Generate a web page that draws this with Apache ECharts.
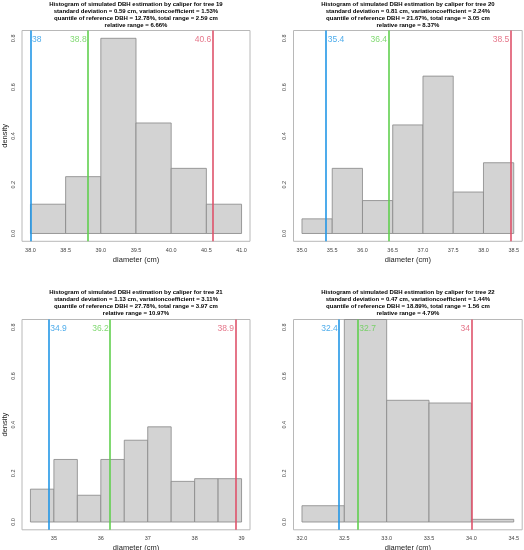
<!DOCTYPE html>
<html>
<head>
<meta charset="utf-8">
<script src="https://cdn.jsdelivr.net/npm/echarts@6/dist/echarts.min.js"></script>
<style>html,body{margin:0;padding:0;background:#fff}#c{width:524px;height:550px}</style>
</head>
<body>
<div id="c"></div>
<script>
// ---- data ----
const binWidth = 0.5;

const title19 = "Histogram of simulated DBH estimation by caliper for tree 19\nstandard deviation = 0.59 cm, variationcoefficient = 1.53%\nquantile of reference DBH = 12.78%, total range = 2.59 cm\nrelative range = 6.66%";
const binStart19 = [38.0, 38.5, 39.0, 39.5, 40.0, 40.5];
const density19 = [0.12, 0.233, 0.80, 0.453, 0.267, 0.12];
const lineVal19 = [38.0, 38.82, 40.59];
const lineLab19 = ["38", "38.8", "40.6"];
const ticks19 = ["38.0", "38.5", "39.0", "39.5", "40.0", "40.5", "41.0"];

const title20 = "Histogram of simulated DBH estimation by caliper for tree 20\nstandard deviation = 0.81 cm, variationcoefficient = 2.24%\nquantile of reference DBH = 21.67%, total range = 3.05 cm\nrelative range = 8.37%";
const binStart20 = [35.0, 35.5, 36.0, 36.5, 37.0, 37.5, 38.0];
const density20 = [0.06, 0.267, 0.135, 0.445, 0.645, 0.17, 0.29];
const lineVal20 = [35.4, 36.43, 38.45];
const lineLab20 = ["35.4", "36.4", "38.5"];
const ticks20 = ["35.0", "35.5", "36.0", "36.5", "37.0", "37.5", "38.0", "38.5"];

const title21 = "Histogram of simulated DBH estimation by caliper for tree 21\nstandard deviation = 1.13 cm, variationcoefficient = 3.11%\nquantile of reference DBH = 27.78%, total range = 3.97 cm\nrelative range = 10.97%";
const binStart21 = [34.5, 35.0, 35.5, 36.0, 36.5, 37.0, 37.5, 38.0, 38.5];
const density21 = [0.135, 0.257, 0.11, 0.257, 0.336, 0.391, 0.167, 0.178, 0.178];
const lineVal21 = [34.89, 36.2, 38.87];
const lineLab21 = ["34.9", "36.2", "38.9"];
const ticks21 = ["35", "36", "37", "38", "39"];

const title22 = "Histogram of simulated DBH estimation by caliper for tree 22\nstandard deviation = 0.47 cm, variationcoefficient = 1.44%\nquantile of reference DBH = 18.89%, total range = 1.56 cm\nrelative range = 4.79%";
const binStart22 = [32.0, 32.5, 33.0, 33.5, 34.0];
const density22 = [0.067, 0.933, 0.50, 0.489, 0.011];
const lineVal22 = [32.44, 32.66, 34.0];
const lineLab22 = ["32.4", "32.7", "34"];
const ticks22 = ["32.0", "32.5", "33.0", "33.5", "34.0", "34.5"];

const yTicks = ["0.0", "0.2", "0.4", "0.6", "0.8"];
const yLimit = [0, 0.8];

// ---- styles / layout ----
const lineColors = ["#2297E6", "#61D04F", "#DF536B"];
const FONT = "Liberation Sans, Arial, Helvetica, sans-serif";
const panels = [
  { title: title19, bs: binStart19, d: density19, lv: lineVal19, ll: lineLab19, tk: ticks19,
    grid: { left: 22, top: 30.5, width: 228, height: 210.8 }, tx: '25.95%', ty: 1.2, sides: ['right','left','left'], yname: true },
  { title: title20, bs: binStart20, d: density20, lv: lineVal20, ll: lineLab20, tk: ticks20,
    grid: { left: 293.5, top: 30.5, width: 228.7, height: 210.8 }, tx: '77.85%', ty: 1.2, sides: ['right','left','left'], yname: false },
  { title: title21, bs: binStart21, d: density21, lv: lineVal21, ll: lineLab21, tk: ticks21,
    grid: { left: 22, top: 319.5, width: 228, height: 210.3 }, tx: '25.95%', ty: 288.8, sides: ['right','left','left'], yname: true },
  { title: title22, bs: binStart22, d: density22, lv: lineVal22, ll: lineLab22, tk: ticks22,
    grid: { left: 293.5, top: 319.5, width: 228.7, height: 210.3 }, tx: '77.85%', ty: 288.8, sides: ['left','right','left'], yname: false }
];

const option = { animation: false, title: [], grid: [], xAxis: [], yAxis: [], series: [] };

panels.forEach((p, i) => {
  const lo = p.bs[0];
  const hi = p.bs[p.bs.length - 1] + binWidth;
  const ext = (hi - lo) * 0.04;
  const yExt = (yLimit[1] - yLimit[0]) * 0.04;
  const tickVals = p.tk.map(Number);
  const tickMap = {};
  p.tk.forEach(t => { tickMap[Number(t)] = t; });
  const yVals = yTicks.map(Number);
  const yMap = {};
  yTicks.forEach(t => { yMap[Number(t)] = t; });

  option.title.push({
    text: p.title, left: p.tx, top: p.ty, textAlign: 'center', padding: 0, itemGap: 0,
    textStyle: { fontSize: 6, fontWeight: 'bold', lineHeight: 7, color: '#000', fontFamily: FONT }
  });
  option.grid.push(Object.assign({ show: true, borderColor: '#b8b8b8', borderWidth: 1, backgroundColor: 'transparent', containLabel: false, outerBoundsMode: 'none' }, p.grid));
  option.xAxis.push({
    type: 'value', gridIndex: i, min: lo - ext, max: hi + ext,
    name: 'diameter (cm)', nameLocation: 'middle', nameGap: 14.5,
    nameTextStyle: { fontSize: 7.5, color: '#222', fontFamily: FONT },
    axisLine: { show: false }, axisTick: { show: false, customValues: tickVals }, splitLine: { show: false },
    axisLabel: { customValues: tickVals, formatter: v => tickMap[v] !== undefined ? tickMap[v] : '', fontSize: 5.5, color: '#444', margin: 6, fontFamily: FONT }
  });
  option.yAxis.push({
    type: 'value', gridIndex: i, min: yLimit[0] - yExt, max: yLimit[1] + yExt,
    name: p.yname ? 'density' : '', nameLocation: 'middle', nameGap: 13, nameRotate: 90,
    nameTextStyle: { fontSize: 7.5, color: '#222', fontFamily: FONT },
    axisLine: { show: false }, axisTick: { show: false, customValues: yVals }, splitLine: { show: false },
    axisLabel: { customValues: yVals, formatter: v => yMap[v] !== undefined ? yMap[v] : '', rotate: 90, fontSize: 5.5, color: '#444', margin: 6, fontFamily: FONT }
  });

  // histogram bars
  option.series.push({
    type: 'custom', xAxisIndex: i, yAxisIndex: i,
    data: p.bs.map((s, k) => [s, s + binWidth, p.d[k]]),
    encode: { x: [0, 1], y: 2 },
    renderItem: function (params, api) {
      const a = api.coord([api.value(0), api.value(2)]);
      const b = api.coord([api.value(1), 0]);
      const cs = params.coordSys;
      const shape = echarts.graphic.clipRectByRect(
        { x: a[0], y: a[1], width: b[0] - a[0], height: b[1] - a[1] },
        { x: cs.x, y: cs.y, width: cs.width, height: cs.height });
      return shape && { type: 'rect', shape: shape, style: { fill: '#d3d3d3', stroke: '#868686', lineWidth: 0.8 } };
    }
  });

  // vertical lines with labels
  option.series.push({
    type: 'scatter', xAxisIndex: i, yAxisIndex: i, symbolSize: 0, silent: true,
    data: p.lv.map((v, k) => ({
      value: [v, yLimit[1] - 0.006],
      label: { show: true, position: p.sides[k], distance: 1.5, formatter: p.ll[k], color: lineColors[k], fontSize: 8.5, fontFamily: FONT }
    })),
    markLine: {
      silent: true, symbol: ['none', 'none'], label: { show: false },
      data: p.lv.map((v, k) => ({ xAxis: v, lineStyle: { color: lineColors[k], width: 1.6, type: 'solid' } }))
    }
  });
});

const chart = echarts.init(document.getElementById('c'), null, { renderer: 'canvas' });
chart.setOption(option);
</script>
</body>
</html>
